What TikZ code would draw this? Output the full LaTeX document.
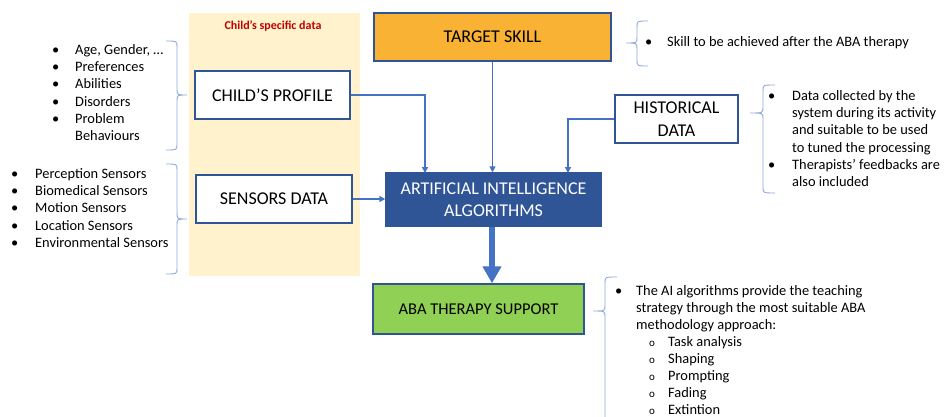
\documentclass[tikz,border=0pt]{standalone}
\usepackage{fontspec}
\setmainfont{Carlito}
\usetikzlibrary{arrows.meta}
\definecolor{bblue}{HTML}{2F5597}
\definecolor{lblue}{HTML}{4472C4}
\definecolor{brc}{HTML}{8FAADC}
\definecolor{beige}{HTML}{FFF2CC}
\definecolor{orng}{HTML}{F9B233}
\definecolor{grn}{HTML}{8FD055}
\definecolor{redt}{HTML}{C00000}
\tikzset{
  box/.style={draw=bblue, line width=1.4pt, inner sep=0, align=center, font=\fontsize{18}{23}\selectfont},
  item/.style={anchor=west, inner sep=0, font=\fontsize{14.4}{17}\selectfont, text height=10, text depth=3},
  conn/.style={draw=lblue, line width=1.6pt, -{Triangle[length=6pt,width=6pt]}},
  bigarrow/.style={draw=lblue, line width=6pt, -{Triangle[length=17pt,width=18pt]}},
  brace/.style={draw=brc, line width=0.9pt},
}
\begin{document}
\begin{tikzpicture}[x=1pt,y=-1pt]
\useasboundingbox[fill=white] (0,0) rectangle (945,417);
% background panel
\fill[beige] (189,13) rectangle (360,276);
\node[inner sep=0, text=redt, font=\bfseries\fontsize{12}{14}\selectfont] (csd) at (273,26) {Child’s specific data};

% boxes
\node[box, fill=orng, minimum width=237, minimum height=48] (target) at (492.5,37) {TARGET SKILL};
\node[box, fill=white, minimum width=155, minimum height=48] (profile) at (272.5,95) {CHILD’S PROFILE};
\node[box, fill=white, minimum width=156, minimum height=48] (sensors) at (274,199) {SENSORS DATA};
\node[box, fill=bblue, text=white, minimum width=215, minimum height=53, font=\fontsize{18}{22}\selectfont] (ai) at (493.5,199.5) {ARTIFICIAL INTELLIGENCE\\ALGORITHMS};
\node[box, fill=white, minimum width=123, minimum height=48, font=\fontsize{18}{23}\selectfont] (hist) at (676.5,119) {HISTORICAL\\DATA};
\node[box, fill=grn, minimum width=211, minimum height=50, font=\fontsize{16.5}{20}\selectfont] (aba) at (478.5,309) {ABA THERAPY SUPPORT};

% connectors
\coordinate (aiA) at (425,173);
\coordinate (aiB) at (568,173);
\draw[conn] (profile.east) -| (aiA);
\draw[conn] (target.south) -- (target.south |- ai.north);
\draw[conn] (hist.west) -| (aiB);
\draw[conn] (sensors.east) -- (ai.west |- sensors.east);
\coordinate (aib) at ([xshift=-1.5pt]ai.south);
\draw[bigarrow] (aib) -- (aib |- aba.north);

% braces
\draw[brace] (166,41) .. controls (177,41) .. (177,47) -- (177,89) .. controls (177,95) .. (187,95)
             .. controls (177,95) .. (177,101) -- (177,144) .. controls (177,150) .. (166,150);
\draw[brace] (166,164) .. controls (177,164) .. (177,170) -- (177,213) .. controls (177,219) .. (187,219)
             .. controls (177,219) .. (177,225) -- (177,268) .. controls (177,274) .. (166,274);
\draw[brace] (648,21) .. controls (637,21) .. (637,27) -- (637,37) .. controls (637,43) .. (626,43)
             .. controls (637,43) .. (637,49) -- (637,60) .. controls (637,66) .. (648,66);
\draw[brace] (775,85) .. controls (763,85) .. (763,91) -- (763,107) .. controls (763,113) .. (750,113)
             .. controls (763,113) .. (763,119) -- (763,187) .. controls (763,193) .. (775,193);
\draw[brace] (617,277) .. controls (605,277) .. (605,283) -- (605,305) .. controls (605,311) .. (593,311)
             .. controls (605,311) .. (605,317) -- (605,420);

% child profile list
\foreach \t [count=\i, evaluate=\i as \y using 51+17.2*(\i-1)] in {{Age, Gender, …},Preferences,Abilities,Disorders,Problem} {
  \node[item] (pb\i) at (52,\y) {•};
  \node[item] (pl\i) at (75,\y) {\t};
}
\node[item] (pl6) at (75,137) {Behaviours};

% sensors list
\foreach \t [count=\i, evaluate=\i as \y using 175+17.2*(\i-1)] in {Perception Sensors,Biomedical Sensors,Motion Sensors,Location Sensors,Environmental Sensors} {
  \node[item] (sb\i) at (11,\y) {•};
  \node[item] (sl\i) at (35,\y) {\t};
}

% target skill text
\node[item] (tb1) at (645,43) {•};
\node[item] (tl1) at (667,43) {Skill to be achieved after the ABA therapy};

% historical text
\node[item] (hb1) at (768,97) {•};
\node[item] (hb2) at (768,166) {•};
\foreach \t [count=\i, evaluate=\i as \y using 97+17.2*(\i-1)] in {Data collected by the,system during its activity,and suitable to be used,to tuned the processing,Therapists’ feedbacks are,also included} {
  \node[item] (hl\i) at (792,\y) {\t};
}

% aba text
\node[item] (ab1) at (615,292) {•};
\foreach \t [count=\i, evaluate=\i as \y using 292+17.2*(\i-1)] in {The AI algorithms provide the teaching,strategy through the most suitable ABA,methodology approach:} {
  \node[item] (al\i) at (636,\y) {\t};
}
\foreach \t [count=\i, evaluate=\i as \y using 343+17*(\i-1)] in {Task analysis,Shaping,Prompting,Fading,Extintion} {
  \node[item, font=\fontsize{11}{12}\selectfont] (ob\i) at (649,\y) {o};
  \node[item] (sa\i) at (668,\y) {\t};
}
\end{tikzpicture}
\end{document}
